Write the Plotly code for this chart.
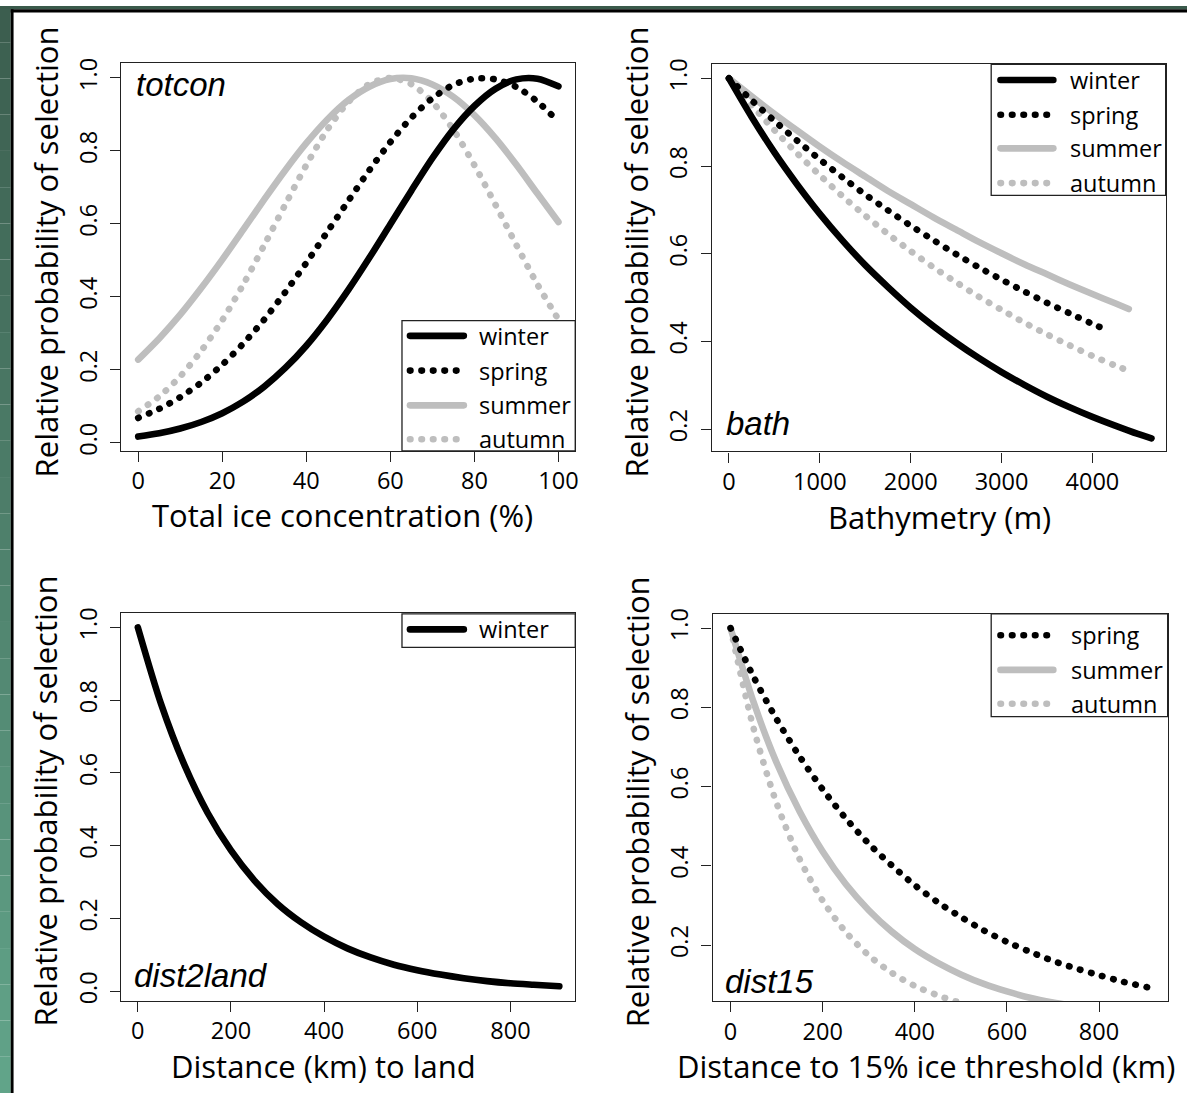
import plotly.graph_objects as go

W, H = 1190, 1098

# ---------------- data ----------------
totcon_x = [0, 5, 10, 15, 20, 25, 30, 35, 40, 45, 50, 55, 60, 65, 70, 75, 80, 85, 90, 95, 100]
totcon_winter = [0.017, 0.026, 0.039, 0.057, 0.081, 0.113, 0.154, 0.205, 0.266, 0.338, 0.419,
                 0.507, 0.599, 0.691, 0.780, 0.859, 0.923, 0.970, 0.996, 0.998, 0.977]
totcon_spring = [0.068, 0.093, 0.125, 0.165, 0.214, 0.272, 0.338, 0.413, 0.493, 0.578, 0.663,
                 0.747, 0.824, 0.891, 0.944, 0.981, 0.998, 0.996, 0.975, 0.935, 0.880]
totcon_summer = [0.228, 0.286, 0.351, 0.424, 0.502, 0.584, 0.667, 0.747, 0.821, 0.886, 0.939,
                 0.976, 0.997, 0.999, 0.982, 0.948, 0.898, 0.835, 0.762, 0.683, 0.605]
totcon_autumn = [0.086, 0.127, 0.182, 0.252, 0.336, 0.434, 0.542, 0.653, 0.761, 0.858, 0.934,
                 0.983, 1.000, 0.983, 0.934, 0.858, 0.761, 0.653, 0.542, 0.434, 0.338]

bath_x = [0, 250, 500, 750, 1000, 1250, 1500, 1750, 2000, 2250, 2500, 2750, 3000, 3250,
          3500, 3750, 4000, 4250, 4500, 4650]
bath_winter = [1.0, 0.912, 0.831, 0.758, 0.691, 0.630, 0.574, 0.524, 0.477, 0.435, 0.397,
               0.362, 0.330, 0.301, 0.274, 0.250, 0.228, 0.208, 0.189, 0.179]
bath_spring_x = [0, 250, 500, 750, 1000, 1250, 1500, 1750, 2000, 2250, 2500, 2750, 3000,
                 3250, 3500, 3750, 4000, 4150]
bath_spring = [1.0, 0.950, 0.903, 0.858, 0.815, 0.774, 0.735, 0.699, 0.664, 0.631, 0.599,
               0.569, 0.541, 0.514, 0.488, 0.464, 0.440, 0.427]
bath_sa_x = [0, 250, 500, 750, 1000, 1250, 1500, 1750, 2000, 2250, 2500, 2750, 3000, 3250,
             3500, 3750, 4000, 4250, 4400]
bath_summer = [1.0, 0.959, 0.919, 0.881, 0.844, 0.809, 0.776, 0.743, 0.713, 0.683, 0.655,
               0.627, 0.601, 0.576, 0.553, 0.530, 0.508, 0.487, 0.474]
bath_autumn = [1.0, 0.939, 0.882, 0.829, 0.779, 0.731, 0.687, 0.645, 0.606, 0.569, 0.535,
               0.502, 0.472, 0.443, 0.416, 0.391, 0.367, 0.345, 0.333]

land_x = [0, 50, 100, 150, 200, 250, 300, 350, 400, 450, 500, 550, 600, 650, 700, 750,
          800, 850, 905]
land_winter = [1.0, 0.789, 0.622, 0.490, 0.387, 0.305, 0.240, 0.190, 0.150, 0.118, 0.093,
               0.073, 0.058, 0.046, 0.036, 0.028, 0.022, 0.018, 0.014]

d15_spring_x = [0, 50, 100, 150, 200, 250, 300, 350, 400, 450, 500, 550, 600, 650, 700,
                750, 800, 850, 907]
d15_spring = [1.0, 0.877, 0.770, 0.676, 0.593, 0.520, 0.456, 0.401, 0.351, 0.308, 0.271,
              0.237, 0.208, 0.183, 0.160, 0.141, 0.124, 0.108, 0.093]
d15_summer_x = [0, 50, 100, 150, 200, 250, 300, 350, 400, 450, 500, 550, 600, 650, 700, 750]
d15_summer = [1.0, 0.813, 0.660, 0.537, 0.436, 0.354, 0.288, 0.234, 0.190, 0.155, 0.126,
              0.102, 0.083, 0.067, 0.055, 0.045]
d15_autumn_x = [0, 50, 100, 150, 200, 250, 300, 350, 400, 450, 500, 550]
d15_autumn = [1.0, 0.747, 0.558, 0.417, 0.312, 0.233, 0.174, 0.130, 0.097, 0.073, 0.054, 0.041]

x_titles = ["Total ice concentration (%)", "Bathymetry (m)", "Distance (km) to land",
            "Distance to 15% ice threshold (km)"]
y_title = "Relative probability of selection"
panel_tags = ["totcon", "bath", "dist2land", "dist15"]
seasons = ["winter", "spring", "summer", "autumn"]

# ---------------- styles ----------------
BLACK = "#000000"
GREY = "#bebebe"
LW = 6.6
DOT = "0.5px,11px"
STYLE = {
    "winter": dict(color=BLACK, width=LW, dash="solid"),
    "spring": dict(color=BLACK, width=LW, dash=DOT),
    "summer": dict(color=GREY, width=LW, dash="solid"),
    "autumn": dict(color=GREY, width=LW, dash=DOT),
}
FONT = "Open Sans"


def fx(px):
    return px / W


def fy(py):
    return 1 - py / H


fig = go.Figure()


def add_series(x, y, season, k):
    ax = "" if k == 1 else str(k)
    fig.add_trace(go.Scatter(x=x, y=y, mode="lines", line=dict(shape="spline", smoothing=0.8, **STYLE[season]),
                             xaxis="x" + ax, yaxis="y" + ax, showlegend=False, hoverinfo="skip"))


add_series(totcon_x, totcon_summer, "summer", 1)
add_series(totcon_x, totcon_autumn, "autumn", 1)
add_series(totcon_x, totcon_spring, "spring", 1)
add_series(totcon_x, totcon_winter, "winter", 1)

add_series(bath_sa_x, bath_summer, "summer", 2)
add_series(bath_sa_x, bath_autumn, "autumn", 2)
add_series(bath_spring_x, bath_spring, "spring", 2)
add_series(bath_x, bath_winter, "winter", 2)

add_series(land_x, land_winter, "winter", 3)

add_series(d15_summer_x, d15_summer, "summer", 4)
add_series(d15_autumn_x, d15_autumn, "autumn", 4)
add_series(d15_spring_x, d15_spring, "spring", 4)

# panel geometry (pixels: left, right, top, bottom)
boxes = [
    (121.7, 576.7, 57.9, 449.3),
    (713.6, 1168.6, 58.9, 450.0),
    (121.7, 576.7, 613.3, 1005.1),
    (714.4, 1170.6, 614.0, 1005.4),
]
xranges = [[-4, 104], [-189, 4806], [-35.3, 939.2], [-39, 949]]
yranges = [[-0.022, 1.040], [0.149, 1.032], [-0.0267, 1.039], [0.058, 1.036]]
xticks = [[0, 20, 40, 60, 80, 100], [0, 1000, 2000, 3000, 4000], [0, 200, 400, 600, 800],
          [0, 200, 400, 600, 800]]
yticks = [[0, 0.2, 0.4, 0.6, 0.8, 1.0], [0.2, 0.4, 0.6, 0.8, 1.0], [0, 0.2, 0.4, 0.6, 0.8, 1.0],
          [0.2, 0.4, 0.6, 0.8, 1.0]]

axcommon = dict(showline=True, mirror=True, linecolor="#222", linewidth=1.3, ticks="outside",
                ticklen=10, tickwidth=1.3, tickcolor="#222", showgrid=False, zeroline=False,
                tickfont=dict(family=FONT, size=23.5, color="black"), fixedrange=True)

layout = {}
for i, (l, r, t, b) in enumerate(boxes):
    k = "" if i == 0 else str(i + 1)
    layout["xaxis" + k] = dict(axcommon, domain=[fx(l), fx(r)], range=xranges[i], tickvals=xticks[i],
                               tickformat="d", anchor="y" + k, ticklabelstandoff=-1)
    layout["yaxis" + k] = dict(axcommon, domain=[fy(b), fy(t)], range=yranges[i], tickvals=yticks[i],
                               tickformat=".1f", anchor="x" + k, tickangle=-90, ticklabelstandoff=4)

# overlay axis in pixel units for legend keys
layout["xaxis5"] = dict(domain=[0, 1], range=[0, W], visible=False, fixedrange=True, anchor="y5")
layout["yaxis5"] = dict(domain=[0, 1], range=[H, 0], visible=False, fixedrange=True, anchor="x5")

annotations = []
shapes = []

# axis titles
xt_pos = [(343.5, 514.5), (941.6, 516.0), (324.0, 1071.0), (928.7, 1070.5)]
yt_pos = [(46.0, 248.0), (637.5, 248.0), (45.0, 802.6), (639.0, 804.0)]
for i in range(4):
    annotations.append(dict(text=x_titles[i], x=fx(xt_pos[i][0]), y=fy(xt_pos[i][1]), xref="paper",
                            yref="paper", showarrow=False, xanchor="center", yanchor="middle",
                            font=dict(family=FONT, size=31, color="black")))
    annotations.append(dict(text=y_title, x=fx(yt_pos[i][0]), y=fy(yt_pos[i][1]), xref="paper",
                            yref="paper", showarrow=False, xanchor="center", yanchor="middle",
                            textangle=-90, font=dict(family=FONT, size=31, color="black")))

# panel tags (italic)
tag_pos = [(134.5, 79.5), (725.5, 422.0), (132.0, 979.0), (724.5, 985.5)]
for i in range(4):
    annotations.append(dict(text=panel_tags[i], x=fx(tag_pos[i][0]), y=fy(tag_pos[i][1]), xref="paper",
                            yref="paper", showarrow=False, xanchor="left", yanchor="middle",
                            font=dict(family="Liberation Sans", size=33, color="black", style="italic")))

# legends
legends = [
    dict(box=(403.0, 576.7, 317.8, 449.3), rows=[333.2, 368.3, 403.4, 437.7], items=seasons,
         sx=(411.0, 465.0), tx=478.4),
    dict(box=(993.7, 1168.6, 58.9, 191.2), rows=[74.7, 109.8, 143.8, 178.9], items=seasons,
         sx=(1003.0, 1056.0), tx=1070.3),
    dict(box=(403.0, 576.7, 614.0, 647.9), rows=[629.7], items=["winter"],
         sx=(411.0, 465.0), tx=478.4),
    dict(box=(993.7, 1170.6, 614.0, 717.8), rows=[635.6, 670.6, 704.8], items=["spring", "summer", "autumn"],
         sx=(1003.0, 1056.0), tx=1071.4),
]
for lg in legends:
    l, r, t, b = lg["box"]
    shapes.append(dict(type="rect", xref="paper", yref="paper", x0=fx(l), x1=fx(r), y0=fy(b), y1=fy(t),
                       line=dict(color="#222", width=1.3), fillcolor="rgba(0,0,0,0)", layer="above"))
    for yy, s in zip(lg["rows"], lg["items"]):
        st = STYLE[s]
        fig.add_trace(go.Scatter(x=[lg["sx"][0], lg["sx"][1]], y=[yy, yy], mode="lines",
                                 line=dict(color=st["color"], width=st["width"], dash=st["dash"]),
                                 xaxis="x5", yaxis="y5", showlegend=False, hoverinfo="skip"))
        annotations.append(dict(text=s, x=fx(lg["tx"]), y=fy(yy), xref="paper", yref="paper",
                                showarrow=False, xanchor="left", yanchor="middle",
                                font=dict(family=FONT, size=23.5, color="black")))

# outer frame: green strip on left, dark strip on top, black edges
top_c = (0x3b, 0x5d, 0x4e)
bot_c = (0x62, 0xa5, 0x8a)
nb = 30
for j in range(nb):
    c = tuple(int(round(top_c[m] + (bot_c[m] - top_c[m]) * (j + 0.5) / nb)) for m in range(3))
    shapes.append(dict(type="rect", xref="paper", yref="paper", x0=0, x1=fx(10.7),
                       y0=fy(H * (j + 1) / nb), y1=fy(H * j / nb), line=dict(width=0),
                       fillcolor="rgb(%d,%d,%d)" % c, layer="above"))
shapes.append(dict(type="rect", xref="paper", yref="paper", x0=0, x1=1, y0=fy(3.4), y1=1,
                   line=dict(width=0), fillcolor="#3a5a4b", layer="above"))
shapes.append(dict(type="rect", xref="paper", yref="paper", x0=fx(10.7), x1=1, y0=fy(6.6), y1=fy(3.4),
                   line=dict(width=0), fillcolor="#000000", layer="above"))
shapes.append(dict(type="rect", xref="paper", yref="paper", x0=fx(10.7), x1=fx(13.6), y0=0, y1=fy(3.4),
                   line=dict(width=0), fillcolor="#000000", layer="above"))

fig.update_layout(width=W, height=H, margin=dict(l=0, r=0, t=0, b=0, pad=0), paper_bgcolor="white",
                  plot_bgcolor="rgba(0,0,0,0)", showlegend=False, annotations=annotations,
                  shapes=shapes, **layout)

post = ("var s=document.createElement('style');"
        "s.innerHTML='html,body{margin:0;padding:0;overflow:hidden;}"
        ".scatterlayer .js-line{stroke-linecap:round;stroke-linejoin:round;}';"
        "document.head.appendChild(s);")
fig.write_html("out.html", post_script=post, config={"displayModeBar": False})
